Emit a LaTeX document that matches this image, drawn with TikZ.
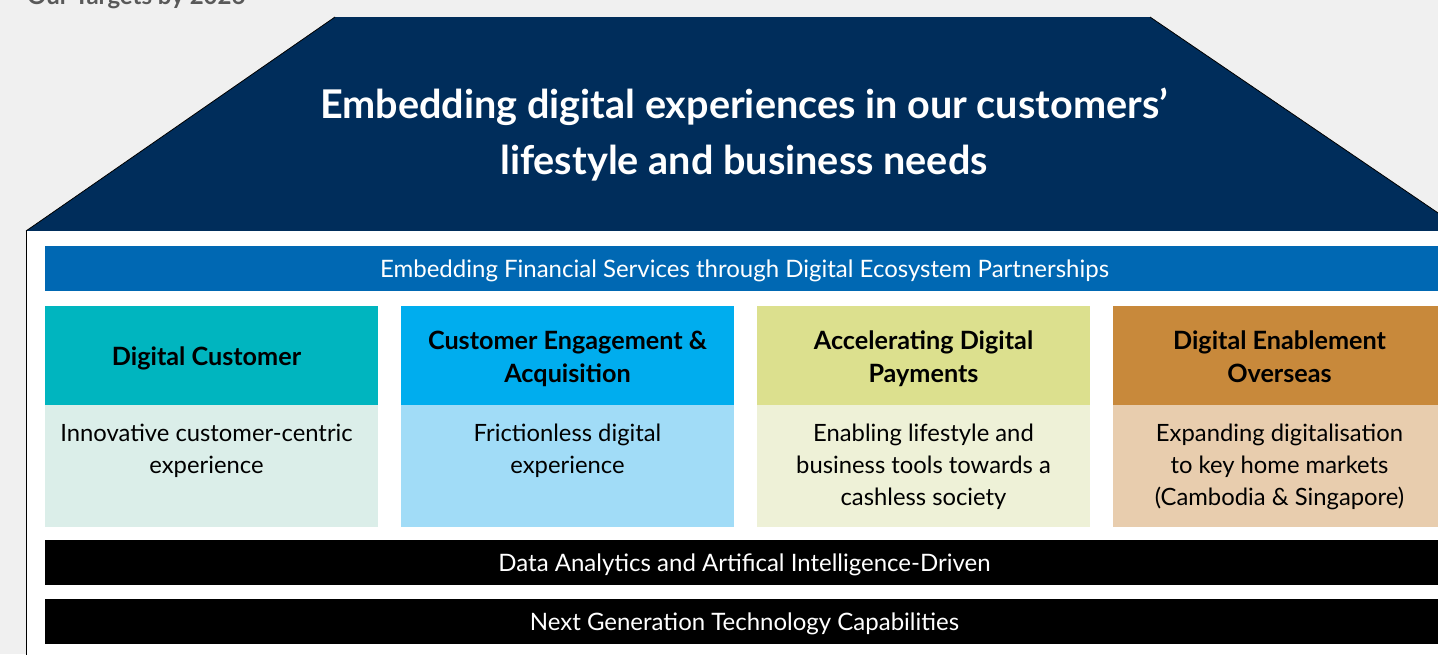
\documentclass[tikz,border=0pt]{standalone}
\usepackage{fontspec}
\setmainfont{Lato}
\usetikzlibrary{positioning}

\definecolor{pagegrey}{HTML}{F0F0F0}
\definecolor{roofnavy}{HTML}{002D5B}
\definecolor{ecoblue}{HTML}{0068B3}
\definecolor{tealhd}{HTML}{00B5BF}
\definecolor{tealbd}{HTML}{DBEEE9}
\definecolor{skyhd}{HTML}{00ADEE}
\definecolor{skybd}{HTML}{A1DCF7}
\definecolor{olivehd}{HTML}{DCE08E}
\definecolor{olivebd}{HTML}{EEF1D7}
\definecolor{ochrehd}{HTML}{C8893B}
\definecolor{ochrebd}{HTML}{E8CDAE}
\definecolor{toptext}{HTML}{595959}

\begin{document}
\begin{tikzpicture}[x=1pt, y=-1pt]
   \tikzstyle{hdr} = [rectangle, minimum width=333pt, minimum height=99pt,
                      inner sep=0pt];
   \tikzstyle{hdrtxt} = [inner sep=0pt, align=center, text=black,
                      font=\fontsize{25.2}{33}\selectfont\bfseries];
   \tikzstyle{bdy} = [rectangle, minimum width=333pt, minimum height=122pt,
                      inner sep=0pt];
   \tikzstyle{bdytxt} = [inner sep=0pt, align=center, text=black,
                      font=\fontsize{23.8}{32}\selectfont];
   \tikzstyle{bar} = [rectangle, minimum width=1399pt, minimum height=45pt,
                      inner sep=0pt, text=white, text depth=0pt,
                      font=\fontsize{24}{28}\selectfont];

   \useasboundingbox (0,0) rectangle (1438,654);
   \fill[pagegrey] (0,0) rectangle (1438,654);

   % cut heading above the house
   \node[anchor=base west, inner sep=0pt, text=toptext,
         font=\fontsize{24}{28}\selectfont\bfseries] (heading) at (27,4)
         {Our Targets by 2026};

   % roof
   \fill[roofnavy] (26,231) -- (335,17) -- (1150,17) -- (1444,217)
                   -- (1444,231) -- cycle;
   \draw[black, line width=0.8pt] (26,231) -- (335,17);
   \draw[black, line width=0.8pt] (1150,17) -- (1444,217);
   \node[align=center, text=white, inner sep=0pt,
         font=\fontsize{39.6}{56}\selectfont\bfseries] (roof) at (744,135)
         {Embedding digital experiences in our customers’\\
          lifestyle and business needs};

   % body of the house
   \fill[white] (26,231) rectangle (1444,660);
   \draw[black, line width=1pt] (26,231) -- (26,660);

   \node[bar, fill=ecoblue] (eco) at (744.5,268.5)
        {Embedding Financial Services through Digital Ecosystem Partnerships};

   % pillars
   \node[hdr, fill=tealhd] (h1) at (211.5,355.5) {};
   \node[hdr, fill=skyhd] (h2) at (567.5,355.5) {};
   \node[hdr, fill=olivehd] (h3) at (923.5,355.5) {};
   \node[hdr, fill=ochrehd] (h4) at (1279.5,355.5) {};

   \node[hdrtxt, xshift=-5pt, yshift=-3pt] (l1) at (h1) {Digital Customer};
   \node[hdrtxt, yshift=-3pt] (l2) at (h2)
        {Customer Engagement \&\\Acquisition};
   \node[hdrtxt, yshift=-3pt] (l3) at (h3)
        {Accelerating Digital\\Payments};
   \node[hdrtxt, yshift=-1pt] (l4) at (h4)
        {Digital Enablement\\Overseas};

   \node[bdy, fill=tealbd, below=0pt of h1] (b1) {};
   \node[bdy, fill=skybd, below=0pt of h2] (b2) {};
   \node[bdy, fill=olivebd, below=0pt of h3] (b3) {};
   \node[bdy, fill=ochrebd, below=0pt of h4] (b4) {};

   \node[bdytxt, below=19pt of h1, xshift=-5pt] (t1)
        {Innovative customer-centric\\experience};
   \node[bdytxt, below=19pt of h2] (t2)
        {Frictionless digital\\experience};
   \node[bdytxt, below=19pt of h3] (t3)
        {Enabling lifestyle and\\business tools towards a\\cashless society};
   \node[bdytxt, below=19pt of h4] (t4)
        {Expanding digitalisation\\to key home markets\\(Cambodia \& Singapore)};

   % foundations
   \node[bar, fill=black] (data) at (744.5,562.5)
        {Data Analytics and Artifical Intelligence-Driven};
   \node[bar, fill=black] (tech) at (744.5,621.5)
        {Next Generation Technology Capabilities};
\end{tikzpicture}
\end{document}
